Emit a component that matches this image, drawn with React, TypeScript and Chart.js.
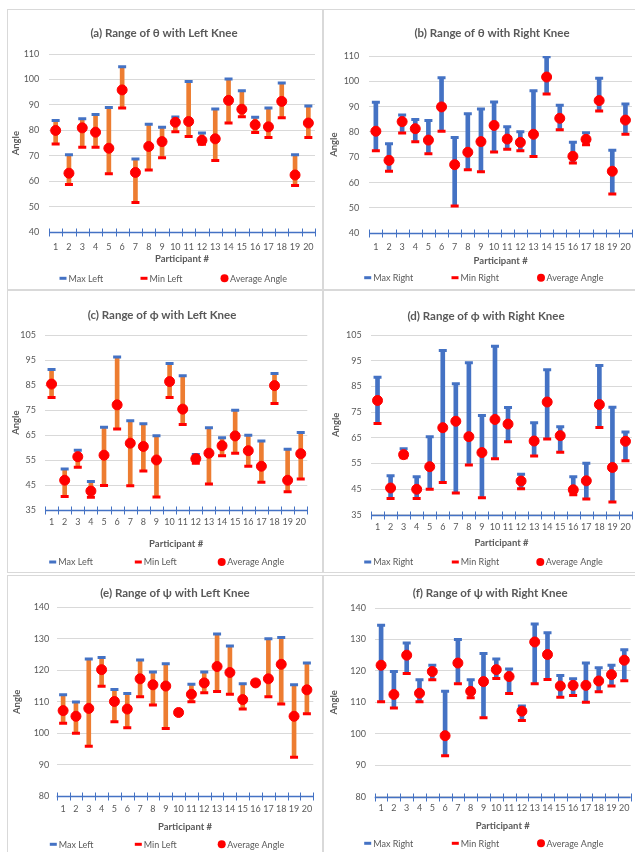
import React, { useEffect, useRef } from 'react';
import { Chart, registerables } from 'chart.js';

Chart.register(...registerables);

// ---------- data ----------
const participants = ['1', '2', '3', '4', '5', '6', '7', '8', '9', '10', '11', '12', '13', '14', '15', '16', '17', '18', '19', '20'];

const thetaLeftMax = [83.9, 70.4, 84.6, 86.2, 89, 105, 68.8, 82.4, 81.2, 85.3, 99.2, 79, 88.4, 100.2, 95.6, 85.2, 88.8, 98.6, 70.4, 89.6];
const thetaLeftMin = [74.7, 58.8, 73.4, 73.4, 63, 88.8, 51.7, 64.5, 69.3, 79.5, 77.6, 74.6, 68.2, 82.9, 85.4, 79.2, 77.2, 85, 58.4, 77.2];
const thetaLeftAvg = [80, 63.2, 81, 79.3, 73, 95.9, 63.5, 73.7, 75.6, 83.2, 83.5, 76.1, 76.7, 91.8, 88.3, 82.2, 81.4, 91.4, 62.5, 82.9];

const thetaRightMax = [91.7, 75.4, 86.7, 84.9, 84.5, 101.4, 77.8, 87.2, 89.1, 91.8, 82.1, 80.1, 96.3, 109.7, 90.6, 75.9, 79.7, 101.2, 72.8, 91];
const thetaRightMin = [72.6, 64.5, 79.6, 76.1, 71.4, 80.3, 50.8, 65.1, 64.3, 72.1, 73.2, 72.6, 70.3, 95, 80.9, 67.8, 75, 88.3, 55.5, 79.1];
const thetaRightAvg = [80.3, 68.8, 84.1, 81.3, 76.8, 89.9, 67.1, 72, 76.2, 82.6, 77.2, 75.9, 79.1, 101.7, 85.4, 70.4, 77.1, 92.4, 64.5, 84.7];

const phiLeftMax = [91.2, 51.5, 59, 46.5, 68.2, 96.2, 70.8, 69.6, 64.8, 93.6, 88.7, 57.3, 68, 64, 75, 65, 62.7, 89.6, 59.4, 66.1];
const phiLeftMin = [80, 40.5, 52.2, 40.2, 44.9, 67.5, 44.8, 50.7, 40.3, 80, 69.3, 53.8, 45.5, 56.8, 57.8, 52.6, 46.2, 77.6, 42.4, 47.5];
const phiLeftAvg = [85.4, 47, 56.4, 42.7, 57, 77.1, 61.8, 60.5, 55.1, 86.4, 75.4, 55.6, 57.8, 60.8, 64.7, 58.8, 52.6, 84.8, 47, 57.6];

const phiRightMax = [88.5, 50.2, 60.7, 49.8, 65.4, 99, 86, 94.2, 73.6, 100.6, 76.8, 50.8, 70.8, 91.5, 69.3, 49.8, 55, 93.1, 76.9, 67.2];
const phiRightMin = [70.5, 41.3, 57.2, 41.3, 44.9, 47.5, 43.5, 54.4, 41.6, 56.8, 63.4, 45.1, 57.9, 64.5, 59.3, 42.8, 41.1, 69, 39.9, 56];
const phiRightAvg = [79.5, 45.4, 58.4, 44.9, 53.7, 68.9, 71.4, 65.4, 59.2, 72.1, 70.3, 48.1, 63.7, 78.9, 65.8, 44.7, 48.2, 77.9, 53.4, 63.6];

const psiLeftMax = [112.2, 109.9, 123.6, 124.1, 113.9, 112.6, 123.3, 119.5, 122.1, 107.3, 115.6, 119.5, 131.5, 127.7, 115.7, 116.6, 130, 130.4, 115.4, 122.3];
const psiLeftMin = [103.2, 100, 95.9, 114.9, 103.7, 101.8, 111.6, 109, 101.5, 106, 110, 112.9, 113.3, 112.4, 107.7, 115.5, 111.6, 109.3, 92.4, 106.2];
const psiLeftAvg = [107.2, 105.4, 107.9, 120.2, 110.1, 107.7, 117.3, 115.4, 115, 106.6, 112.4, 116, 121.2, 119.3, 110.7, 116, 117.3, 121.9, 105.4, 113.8];

const psiRightMax = [134.5, 119.8, 128.9, 117.2, 121.8, 113.5, 130, 117.2, 125.5, 123.8, 120.6, 108.8, 134.9, 132.1, 118.5, 117.5, 122.5, 121, 121.8, 126.7];
const psiRightMin = [110.2, 108.2, 119.2, 110.2, 117.2, 93, 115.9, 111.5, 105.1, 117.6, 112.8, 104.2, 115.9, 117.3, 111.6, 112.2, 110, 113.4, 115.2, 116.9];
const psiRightAvg = [121.8, 112.5, 125, 112.9, 119.8, 99.4, 122.5, 113.5, 116.6, 120.4, 118.2, 107.2, 129.2, 125.2, 115.2, 115.4, 115.4, 116.8, 118.8, 123.4];

const titles = [
  '(a) Range of \u03B8 with Left Knee',
  '(b) Range of \u03B8 with Right Knee',
  '(c) Range of \u03D5 with Left Knee',
  '(d) Range of \u03D5 with Right Knee',
  '(e) Range of \u03C8 with Left Knee',
  '(f) Range of \u03C8 with Right Knee',
];
const yRanges = [[40, 110], [40, 110], [35, 105], [35, 105], [80, 140], [80, 140]];
const yTitle = 'Angle';
const xTitle = 'Participant #';

// ---------- style ----------
const FONT = "Lato, 'Noto Sans', sans-serif";
const GRAY = '#595959';
const BLUE = '#4472C4';
const ORANGE = '#ED7D31';
const RED = '#FF0000';
const GRID = '#D9D9D9';
const TITLE_SIZE = 11.5;
const AXIS_TITLE_SIZE = 9.5;
const TICK_SIZE = 9;
const LEGEND_SIZE = 9;

type Geo = {
  box: { l: number; t: number; w: number; h: number };
  titleX: number; titleY: number;
  yTitleX: number; yLabelRight: number;
  chart: { l: number; r: number; t: number; b: number };
  xLabelY: number; xTitleY: number;
  legendY: number; legendX: number[];
};

const geos: Geo[] = [
  { box: { l: 7, t: 9, w: 316, h: 281 }, titleX: 164, titleY: 33, yTitleX: 16, yLabelRight: 39.3,
    chart: { l: 49, r: 318, t: 54, b: 232.3 }, xLabelY: 246.7, xTitleY: 259.3, legendY: 278.3, legendX: [63, 144, 224.5] },
  { box: { l: 323, t: 9, w: 317, h: 281 }, titleX: 492, titleY: 33.3, yTitleX: 334.3, yLabelRight: 359.3,
    chart: { l: 369.3, r: 634, t: 56, b: 233.3 }, xLabelY: 247.3, xTitleY: 260.7, legendY: 277.7, legendX: [367.7, 455, 541] },
  { box: { l: 7, t: 290, w: 316, h: 283 }, titleX: 162, titleY: 315.3, yTitleX: 16, yLabelRight: 36,
    chart: { l: 45, r: 307.3, t: 335, b: 510.3 }, xLabelY: 521.7, xTitleY: 544, legendY: 562, legendX: [52.7, 138.3, 221.7] },
  { box: { l: 323, t: 290, w: 317, h: 283 }, titleX: 486, titleY: 316, yTitleX: 336, yLabelRight: 361.7,
    chart: { l: 371, r: 632, t: 335, b: 514.7 }, xLabelY: 527.3, xTitleY: 543, legendY: 562, legendX: [367.7, 455.3, 540.3] },
  { box: { l: 7, t: 575, w: 316, h: 290 }, titleX: 175, titleY: 593.3, yTitleX: 17.3, yLabelRight: 49.3,
    chart: { l: 56.7, r: 313.3, t: 607.3, b: 796.3 }, xLabelY: 809.3, xTitleY: 826.7, legendY: 844.3, legendX: [53.3, 138.3, 221.7] },
  { box: { l: 323, t: 575, w: 317, h: 290 }, titleX: 490.2, titleY: 593.3, yTitleX: 334.3, yLabelRight: 366,
    chart: { l: 374.7, r: 630.7, t: 608, b: 796.7 }, xLabelY: 808.3, xTitleY: 825.7, legendY: 843.3, legendX: [367.7, 455.3, 541] },
];

type Series = { max: number[]; min: number[]; avg: number[]; side: 'Left' | 'Right' };
const series: Series[] = [
  { max: thetaLeftMax, min: thetaLeftMin, avg: thetaLeftAvg, side: 'Left' },
  { max: thetaRightMax, min: thetaRightMin, avg: thetaRightAvg, side: 'Right' },
  { max: phiLeftMax, min: phiLeftMin, avg: phiLeftAvg, side: 'Left' },
  { max: phiRightMax, min: phiRightMin, avg: phiRightAvg, side: 'Right' },
  { max: psiLeftMax, min: psiLeftMin, avg: psiLeftAvg, side: 'Left' },
  { max: psiRightMax, min: psiRightMin, avg: psiRightAvg, side: 'Right' },
];

// Excel-like x axis (line with crossing tick marks) and legend in fixed columns
const excelDecor = {
  id: 'excelDecor',
  beforeDatasetsDraw(chart: any) {
    const xs = chart.scales.x;
    const ys = chart.scales.y;
    const ctx = chart.ctx;
    const yb = Math.round(ys.getPixelForValue(ys.min)) + 0.5;
    ctx.save();
    ctx.strokeStyle = BLUE;
    ctx.lineWidth = 1.5;
    ctx.beginPath();
    ctx.moveTo(xs.left, yb);
    ctx.lineTo(xs.right, yb);
    ctx.stroke();
    ctx.lineWidth = 1;
    const n = chart.data.labels.length;
    for (let i = 0; i <= n; i++) {
      const px = Math.round(xs.getPixelForValue(i - 0.5)) + 0.5;
      ctx.beginPath();
      ctx.moveTo(px, yb - 4);
      ctx.lineTo(px, yb + 4);
      ctx.stroke();
    }
    ctx.restore();
  },
  afterDraw(chart: any, _args: any, opts: any) {
    const ctx = chart.ctx;
    const y = opts.y;
    const xsPos: number[] = opts.xs;
    ctx.save();
    ctx.font = `${LEGEND_SIZE}px ${FONT}`;
    ctx.textBaseline = 'middle';
    ctx.textAlign = 'left';
    const items = chart.data.datasets.filter((d: any) => d.inLegend);
    items.forEach((d: any, i: number) => {
      const mx = xsPos[i];
      if (d.pointStyle === 'line') {
        ctx.strokeStyle = d.borderColor;
        ctx.lineWidth = 3;
        ctx.beginPath();
        ctx.moveTo(mx - 3.5, y);
        ctx.lineTo(mx + 3.5, y);
        ctx.stroke();
      } else {
        ctx.fillStyle = d.backgroundColor;
        ctx.beginPath();
        ctx.arc(mx, y, 4, 0, Math.PI * 2);
        ctx.fill();
      }
      ctx.fillStyle = GRAY;
      ctx.fillText(d.label, mx + 5.5, y + 0.5);
    });
    ctx.restore();
  },
};

function Panel({ idx }: { idx: number }) {
  const ref = useRef<HTMLCanvasElement | null>(null);
  const g = geos[idx];
  const s = series[idx];
  const W = g.box.w - 2;
  const H = g.box.h - 2;

  useEffect(() => {
    if (!ref.current) return;
    const ox = g.box.l + 1;
    const oy = g.box.t + 1;
    const lhT = TITLE_SIZE * 1.2;
    const lhA = AXIS_TITLE_SIZE * 1.2;
    const lhTick = TICK_SIZE * 1.2;
    const cL = g.chart.l - ox;
    const cR = g.chart.r - ox;
    const cT = g.chart.t - oy;
    const cB = g.chart.b - oy;
    const padL = Math.min(2 * (g.titleX - ox) - cR, cL - 4);
    const padR = W - cR;
    const yW = cL - padL;
    const yTitlePad = g.yTitleX - ox - padL - lhA / 2;
    const tY = g.titleY - oy;
    const titlePadTop = tY - lhT / 2;
    const titlePadBottom = cT - tY - lhT / 2;
    const xH = g.xTitleY - oy - cB + lhA / 2;
    const xTickPad = g.xLabelY - oy - cB - lhTick / 2;
    const padB = H - cB - xH;
    const barColor = s.side === 'Left' ? ORANGE : BLUE;

    const chart = new Chart(ref.current, {
      type: 'bar',
      data: {
        labels: participants,
        datasets: [
          {
            type: 'bar',
            label: 'Range',
            data: s.max.map((m, i) => [s.min[i], m]),
            backgroundColor: barColor,
            borderWidth: 0,
            barThickness: 4,
            order: 4,
          } as any,
          {
            type: 'line',
            label: `Max ${s.side}`,
            data: s.max,
            showLine: false,
            pointStyle: 'line',
            pointRadius: 4,
            pointBorderWidth: 3,
            borderColor: BLUE,
            backgroundColor: BLUE,
            order: 3,
            inLegend: true,
          } as any,
          {
            type: 'line',
            label: `Min ${s.side}`,
            data: s.min,
            showLine: false,
            pointStyle: 'line',
            pointRadius: 4,
            pointBorderWidth: 3,
            borderColor: RED,
            backgroundColor: RED,
            order: 2,
            inLegend: true,
          } as any,
          {
            type: 'line',
            label: 'Average Angle',
            data: s.avg,
            showLine: false,
            pointStyle: 'circle',
            pointRadius: 5,
            pointBorderWidth: 1,
            borderColor: RED,
            backgroundColor: RED,
            order: 1,
            inLegend: true,
          } as any,
        ],
      },
      options: {
        responsive: false,
        animation: false,
        layout: { padding: { left: padL, right: padR, top: 0, bottom: padB } },
        plugins: {
          legend: { display: false },
          tooltip: { enabled: false },
          title: {
            display: true,
            text: titles[idx],
            color: GRAY,
            font: { family: FONT, size: TITLE_SIZE, weight: 'bold', lineHeight: 1.2 },
            padding: { top: titlePadTop, bottom: titlePadBottom },
          },
          excelDecor: { y: g.legendY - oy, xs: g.legendX.map((v) => v - ox) },
        } as any,
        scales: {
          x: {
            type: 'category',
            offset: true,
            grid: { display: false, drawTicks: false },
            border: { display: false },
            ticks: {
              color: GRAY,
              font: { family: FONT, size: TICK_SIZE, lineHeight: 1.2 },
              padding: xTickPad,
              autoSkip: false,
              maxRotation: 0,
            },
            title: {
              display: true,
              text: xTitle,
              color: GRAY,
              font: { family: FONT, size: AXIS_TITLE_SIZE, weight: 'bold', lineHeight: 1.2 },
              padding: { top: 0, bottom: 0 },
            },
            afterFit: (sc: any) => {
              sc.height = xH;
              sc.paddingLeft = 0;
              sc.paddingRight = 0;
            },
          },
          y: {
            min: yRanges[idx][0],
            max: yRanges[idx][1],
            grid: { color: GRID, drawTicks: false, lineWidth: 1 },
            border: { display: false },
            ticks: {
              stepSize: 10,
              color: GRAY,
              font: { family: FONT, size: TICK_SIZE, lineHeight: 1.2 },
              padding: cL - (g.yLabelRight - ox),
            },
            title: {
              display: true,
              text: yTitle,
              color: GRAY,
              font: { family: FONT, size: AXIS_TITLE_SIZE, weight: 'bold', lineHeight: 1.2 },
              padding: { top: yTitlePad, bottom: 0 },
            },
            afterFit: (sc: any) => {
              sc.width = yW;
              sc.paddingTop = 0;
              sc.paddingBottom = 0;
              // tick labels may sit left of the (narrow) scale box: do not clip them
              sc._computeLabelArea = () => undefined;
            },
          },
        },
      } as any,
      plugins: [excelDecor as any],
    });
    return () => chart.destroy();
  }, [idx]);

  return (
    <div
      style={{
        position: 'absolute',
        left: g.box.l,
        top: g.box.t,
        width: g.box.w,
        height: g.box.h,
        border: `1px solid ${GRID}`,
        boxSizing: 'border-box',
        overflow: 'hidden',
        background: '#fff',
      }}
    >
      <canvas ref={ref} width={W} height={H} style={{ display: 'block', width: W, height: H }} />
    </div>
  );
}

export default function App() {
  return (
    <div
      style={{
        position: 'fixed',
        left: 0,
        top: 0,
        width: 635,
        height: 852,
        overflow: 'hidden',
        background: '#fff',
      }}
    >
      {geos.map((_, i) => (
        <Panel key={i} idx={i} />
      ))}
    </div>
  );
}
